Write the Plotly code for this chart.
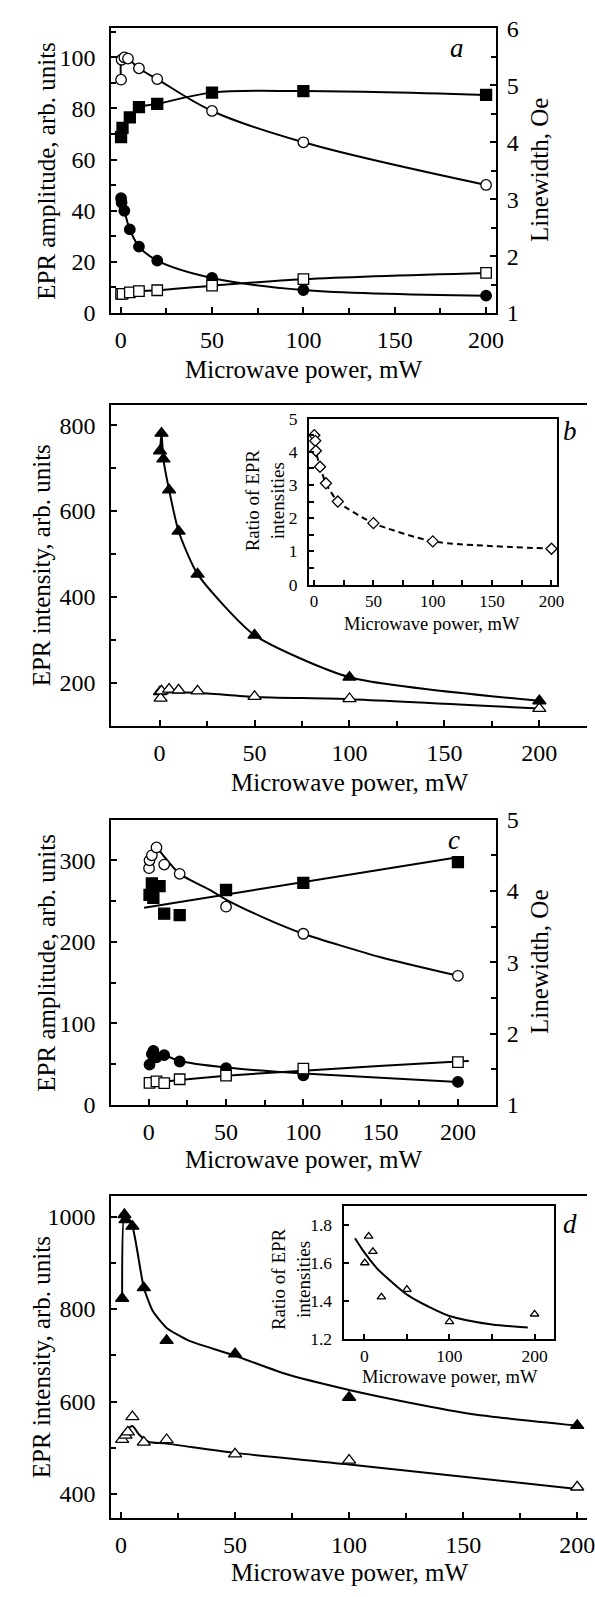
import plotly.graph_objects as go

W, H = 595, 1597
SERIF = "Liberation Serif"

# ---------------- data ----------------
# panel a: EPR amplitude (left) and linewidth (right) vs microwave power
a_sq_x = [0.2, 1, 5, 10, 20, 50, 100, 200]            # filled squares, amplitude
a_sq_y = [68.8, 72.4, 76.5, 80.5, 81.8, 86.2, 86.8, 85.3]
a_fc_x = [0.2, 0.5, 2, 5, 10, 20, 50, 100, 200]       # filled circles, amplitude
a_fc_y = [44.9, 43.2, 40.0, 32.7, 26.0, 20.5, 13.7, 9.0, 6.8]
a_oc_x = [0.2, 0.5, 2, 4, 10, 20, 50, 100, 200]       # open circles, linewidth
a_oc_y = [5.10, 5.45, 5.49, 5.47, 5.30, 5.11, 4.55, 4.00, 3.25]
a_os_x = [0.2, 1, 5, 10, 20, 50, 100, 200]            # open squares, linewidth
a_os_y = [1.335, 1.335, 1.364, 1.386, 1.40, 1.48, 1.595, 1.705]

# panel b: EPR intensity
b_ft_x = [0.2, 1, 2, 5, 10, 20, 50, 100, 200]
b_ft_y = [740, 781, 721, 649, 553, 453, 311, 213, 158]
b_ot_x = [0.2, 0.5, 1, 5, 10, 20, 50, 100, 200]
b_ot_y = [179, 164, 181, 185, 183, 181, 168, 163, 140]
b_ot_fit_x = [0.2, 20, 50, 100, 200]
b_ot_fit_y = [178, 177, 167, 162, 140]
# inset b: ratio of EPR intensities
ib_x = [0.2, 1, 1.5, 5, 10, 20, 50, 100, 200]
ib_y = [4.50, 4.33, 4.03, 3.55, 3.05, 2.50, 1.85, 1.30, 1.08]

# panel c
c_fs_x = [0.5, 2, 3, 7, 10, 20, 50, 100, 200]
c_fs_y = [257.6, 271.7, 254.0, 268.5, 234.7, 232.8, 263.7, 272.5, 298.0]
c_fs_fit_x = [-3, 200]
c_fs_fit_y = [242, 304]
c_fc_x = [0.5, 2, 3, 5, 10, 20, 50, 100, 200]
c_fc_y = [49.5, 62.4, 66.4, 58.4, 61.2, 53.3, 45.0, 36.2, 28.2]
c_fc_fit_x = [2, 10, 20, 50, 100, 200]
c_fc_fit_y = [63, 61, 54, 46, 38.5, 28.2]
c_oc_x = [0.2, 0.5, 2, 5, 10, 20, 50, 100, 200]
c_oc_y = [4.32, 4.43, 4.50, 4.61, 4.37, 4.24, 3.78, 3.40, 2.81]
c_oc_fit_x = [6, 20, 40, 50, 75, 100, 150, 200]
c_oc_fit_y = [4.59, 4.24, 4.01, 3.88, 3.62, 3.40, 3.07, 2.81]
c_os_x = [0.5, 5, 10, 20, 50, 100, 200]
c_os_y = [1.31, 1.33, 1.305, 1.36, 1.41, 1.51, 1.60]
c_os_fit_x = [-2, 20, 50, 100, 200, 207]
c_os_fit_y = [1.30, 1.35, 1.41, 1.48, 1.61, 1.615]

# panel d
d_ft_x = [0.5, 1.5, 2, 5, 10, 20, 50, 100, 200]
d_ft_y = [823, 1004, 993, 979, 846, 732, 703, 609, 548]
d_ft_fit_x = [0.5, 1.5, 5, 10, 14, 20, 30, 50, 72, 100, 126, 155, 200]
d_ft_fit_y = [823, 1004, 979, 846, 795, 759, 731, 699, 660, 625, 598, 572, 548]
d_ot_x = [0.5, 2, 3, 5, 10, 20, 50, 100, 200]
d_ot_y = [518, 527, 534, 567, 512, 517.5, 486.5, 473, 415]
d_ot_fit_x = [1, 3, 5, 8, 12, 20, 50, 100, 200]
d_ot_fit_y = [520, 540, 547, 528, 513, 509, 489, 464, 411]
# inset d
id_x = [0.5, 5, 10, 20, 50, 100, 200]
id_y = [1.60, 1.74, 1.66, 1.42, 1.46, 1.29, 1.33]
id_fit_x = [-11, 0, 15, 32, 51, 75, 100, 150, 192]
id_fit_y = [1.73, 1.655, 1.57, 1.50, 1.43, 1.37, 1.32, 1.275, 1.26]

X_TITLE = "Microwave power, mW"


# ---------------- helpers ----------------
def xdom(l, r):
    return [max(0.0, l / W), min(1.0, r / W)]


def ydom(t, b):
    return [1 - b / H, 1 - t / H]


def axis(rng, dtick, minor_dtick=None, size=24, standoff=4, **kw):
    d = dict(
        range=rng, dtick=dtick, tick0=0, showline=True, linecolor="black",
        linewidth=2, ticks="inside", ticklen=6, tickwidth=1.5, tickcolor="black",
        showgrid=False, zeroline=False, ticklabelstandoff=standoff,
        tickfont=dict(family=SERIF, size=size, color="black"),
    )
    if minor_dtick:
        d["minor"] = dict(dtick=minor_dtick, ticks="inside", ticklen=5,
                          tickwidth=1.5, tickcolor="black", showgrid=False)
    d.update(kw)
    return d


fig = go.Figure()


def line(x, y, xa, ya, dash="solid", shape="spline", smoothing=1.0, width=2):
    fig.add_trace(go.Scatter(
        x=x, y=y, xaxis=xa, yaxis=ya, mode="lines", hoverinfo="skip",
        line=dict(color="black", width=width, dash=dash, shape=shape,
                  smoothing=smoothing)))


def marks(x, y, xa, ya, symbol, filled, size):
    fig.add_trace(go.Scatter(
        x=x, y=y, xaxis=xa, yaxis=ya, mode="markers",
        marker=dict(symbol=symbol, size=size,
                    color="black" if filled else "white",
                    line=dict(color="black", width=1.3))))


# ---------------- panel a ----------------
line(a_sq_x, a_sq_y, "x", "y")
line(a_fc_x, a_fc_y, "x", "y")
marks(a_sq_x, a_sq_y, "x", "y", "square", True, 11)
marks(a_fc_x, a_fc_y, "x", "y", "circle", True, 10.5)
line(a_oc_x, a_oc_y, "x", "y2")
line(a_os_x, a_os_y, "x", "y2")
marks(a_oc_x, a_oc_y, "x", "y2", "circle", False, 10.5)
marks(a_os_x, a_os_y, "x", "y2", "square", False, 10.5)

# ---------------- panel b ----------------
line(b_ft_x, b_ft_y, "x2", "y3", smoothing=0.6)
line(b_ot_fit_x, b_ot_fit_y, "x2", "y3", smoothing=0.6)
marks(b_ot_x, b_ot_y, "x2", "y3", "triangle-up", False, 11.5)
marks(b_ft_x, b_ft_y, "x2", "y3", "triangle-up", True, 11.5)
line(ib_x, ib_y, "x3", "y4", dash="6px,4px", smoothing=0.6)
marks(ib_x, ib_y, "x3", "y4", "diamond", False, 8.5)

# ---------------- panel c ----------------
line(c_fs_fit_x, c_fs_fit_y, "x4", "y5", shape="linear")
line(c_fc_fit_x, c_fc_fit_y, "x4", "y5", smoothing=0.6)
marks(c_fs_x, c_fs_y, "x4", "y5", "square", True, 11)
marks(c_fc_x, c_fc_y, "x4", "y5", "circle", True, 10.5)
line(c_oc_fit_x, c_oc_fit_y, "x4", "y6", smoothing=0.6)
line(c_os_fit_x, c_os_fit_y, "x4", "y6", smoothing=0.6)
marks(c_oc_x, c_oc_y, "x4", "y6", "circle", False, 10.5)
marks(c_os_x, c_os_y, "x4", "y6", "square", False, 10.5)

# ---------------- panel d ----------------
line(d_ft_fit_x, d_ft_fit_y, "x5", "y7", smoothing=0.5)
line(d_ot_fit_x, d_ot_fit_y, "x5", "y7", smoothing=0.8)
marks(d_ot_x, d_ot_y, "x5", "y7", "triangle-up", False, 11.5)
marks(d_ft_x, d_ft_y, "x5", "y7", "triangle-up", True, 11.5)
line(id_fit_x, id_fit_y, "x6", "y8", smoothing=0.8)
marks(id_x, id_y, "x6", "y8", "triangle-up", False, 7.5)

# ---------------- axes ----------------
layout = dict(
    width=W, height=H, margin=dict(l=0, r=0, t=0, b=0),
    paper_bgcolor="white", plot_bgcolor="white", showlegend=False,
    # panel a
    xaxis=axis([-5.2, 205.4], 50, 25, anchor="y", mirror=True,
               domain=xdom(112.7, 502.7)),
    yaxis=axis([0, 111.3], 20, 10, anchor="x", standoff=9,
               domain=ydom(15.7, 305)),
    yaxis2=axis([1, 6], 1, 0.5, anchor="x", overlaying="y", side="right",
                tick0=1, standoff=4),
    # panel b
    xaxis2=axis([-25.5, 225.1], 50, 25, anchor="y3", mirror=True,
                domain=xdom(112.7, 595)),
    yaxis3=axis([99, 848], 200, 100, anchor="x2", standoff=9,
                domain=ydom(398, 725)),
    # inset b
    xaxis3=axis([-4.2, 205], 50, 25, anchor="y4", mirror=True, size=17,
                ticklen=5, standoff=0, domain=xdom(313.3, 565)),
    yaxis4=axis([0, 5], 1, 0.5, anchor="x3", mirror=True, size=17.5,
                ticklen=5, standoff=6, domain=ydom(412.3, 581)),
    # panel c
    xaxis4=axis([-24.3, 224.6], 50, 25, anchor="y5", mirror=True,
                domain=xdom(112.7, 502.7)),
    yaxis5=axis([0, 350], 100, 50, anchor="x4", standoff=9,
                domain=ydom(820, 1110)),
    yaxis6=axis([1, 5], 1, 0.5, anchor="x4", overlaying="y5", side="right",
                tick0=1, standoff=4),
    # panel d
    xaxis5=axis([-4.3, 204.3], 50, 25, anchor="y7", mirror=True,
                ticklabeloverflow="allow", domain=xdom(112.7, 595)),
    yaxis7=axis([348, 1045], 200, 100, anchor="x5", standoff=9,
                domain=ydom(1202.3, 1530)),
    # inset d
    xaxis6=axis([-24.4, 223], 100, 50, anchor="y8", mirror=True, size=17.5,
                ticklen=5, standoff=0, domain=xdom(348.3, 561.7)),
    yaxis8=axis([1.2, 1.9], 0.2, None, anchor="x6", mirror=True, size=17.5,
                ticklen=5, tick0=1.2, standoff=6, tickformat=".1f",
                domain=ydom(1212.7, 1347.7)),
)
fig.update_layout(**layout)


# ---------------- text ----------------
def text(s, px, py, size=25, angle=0, italic=False):
    fig.add_annotation(
        text=s, x=px / W, y=1 - py / H, xref="paper", yref="paper",
        xanchor="center", yanchor="middle", showarrow=False, textangle=angle,
        font=dict(family=SERIF, size=size, color="black",
                  style="italic" if italic else "normal"))


text(X_TITLE, 308, 362)
text(X_TITLE, 355, 782)
text(X_TITLE, 308, 1165)
text(X_TITLE, 355, 1585)
text(X_TITLE, 437.5, 621, size=18.5)
text(X_TITLE, 455.7, 1387, size=18.5)

text("EPR amplitude, arb. units", 47, 160, angle=-90)
text("Linewidth, Oe", 547, 160, angle=-90)
text("EPR intensity, arb. units", 42, 561, angle=-90)
text("EPR amplitude, arb. units", 47, 965, angle=-90)
text("Linewidth, Oe", 547, 965, angle=-90)
text("EPR intensity, arb. units", 42, 1366, angle=-90)
text("Ratio of EPR<br>intensities", 269, 495, size=19, angle=-90)
text("Ratio of EPR<br>intensities", 295, 1287, size=19, angle=-90)

text("a", 463, 36, size=27, italic=True)
text("b", 578, 425, size=27, italic=True)
text("c", 460, 841, size=27, italic=True)
text("d", 578, 1231, size=27, italic=True)

fig.write_html("out.html")
